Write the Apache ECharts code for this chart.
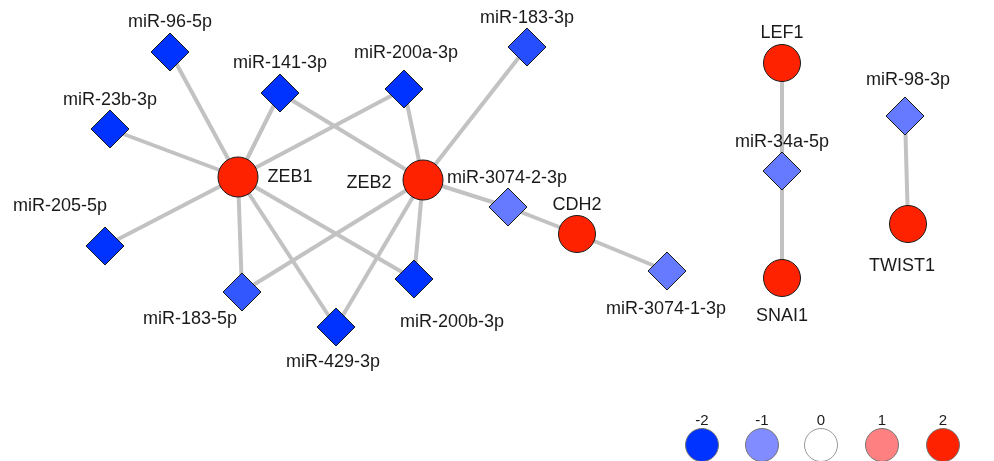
<!DOCTYPE html>
<html>
<head>
<meta charset="utf-8">
<script src="https://cdn.jsdelivr.net/npm/echarts@6/dist/echarts.min.js"></script>
<style>
  html, body { margin: 0; padding: 0; background: #fff; }
  #chart { width: 994px; height: 461px; }
</style>
</head>
<body>
<div id="chart"></div>
<script>
// network nodes (layout coordinates) and fold change
const nodeNames = ['ZEB1', 'ZEB2', 'CDH2', 'LEF1', 'SNAI1', 'TWIST1',
    'miR-96-5p', 'miR-141-3p', 'miR-200a-3p', 'miR-23b-3p', 'miR-205-5p',
    'miR-183-5p', 'miR-429-3p', 'miR-200b-3p', 'miR-183-3p', 'miR-3074-2-3p',
    'miR-3074-1-3p', 'miR-34a-5p', 'miR-98-3p'];
const nodeX = [238, 423, 577, 782, 782, 908,
    170, 280, 404, 110, 105, 242, 336, 414, 527, 508, 667, 782, 905];
const nodeY = [177, 180, 234, 63, 278, 224,
    52, 93, 89, 129, 246, 292, 327, 279, 47, 207, 271, 171, 116];
const nodeValue = [2, 2, 2, 2, 2, 2,
    -2, -2, -2, -2, -2, -1.6, -2, -2, -1.7, -1.2, -1.2, -1.2, -1.2];
const edges = [
    ['ZEB1', 'miR-96-5p'], ['ZEB1', 'miR-141-3p'], ['ZEB1', 'miR-200a-3p'],
    ['ZEB1', 'miR-23b-3p'], ['ZEB1', 'miR-205-5p'], ['ZEB1', 'miR-183-5p'],
    ['ZEB1', 'miR-429-3p'], ['ZEB1', 'miR-200b-3p'],
    ['ZEB2', 'miR-141-3p'], ['ZEB2', 'miR-200a-3p'], ['ZEB2', 'miR-183-3p'],
    ['ZEB2', 'miR-3074-2-3p'], ['ZEB2', 'miR-183-5p'], ['ZEB2', 'miR-429-3p'],
    ['ZEB2', 'miR-200b-3p'],
    ['miR-3074-2-3p', 'CDH2'], ['CDH2', 'miR-3074-1-3p'],
    ['LEF1', 'miR-34a-5p'], ['miR-34a-5p', 'SNAI1'],
    ['miR-98-3p', 'TWIST1']
];
const legendValues = [-2, -1, 0, 1, 2];
const legendX = [702, 762, 821, 882, 943];

// colour scale as in the legend
const stops = [
    [-2, [0, 51, 255]], [-1, [128, 140, 255]], [0, [255, 255, 255]],
    [1, [255, 128, 128]], [2, [255, 34, 0]]
];
function colorOf(v) {
    for (let i = 0; i < stops.length - 1; i++) {
        const a = stops[i], b = stops[i + 1];
        if (v <= b[0]) {
            const t = Math.max(0, (v - a[0]) / (b[0] - a[0]));
            const c = a[1].map((x, k) => Math.round(x + (b[1][k] - x) * t));
            return 'rgb(' + c.join(',') + ')';
        }
    }
    return 'rgb(255,34,0)';
}

// label offsets from node centre
const labelOffset = {
    'ZEB1': [52, 0], 'ZEB2': [-54, 3], 'CDH2': [0, -29], 'LEF1': [0, -30],
    'SNAI1': [0, 38], 'TWIST1': [-6, 42],
    'miR-96-5p': [0, -30], 'miR-141-3p': [0, -30], 'miR-200a-3p': [2, -36],
    'miR-23b-3p': [0, -29], 'miR-205-5p': [-45, -40], 'miR-183-5p': [-52, 27],
    'miR-429-3p': [-3, 35], 'miR-200b-3p': [38, 43], 'miR-183-3p': [0, -29],
    'miR-3074-2-3p': [-1, -29], 'miR-3074-1-3p': [-1, 38], 'miR-34a-5p': [0, -29],
    'miR-98-3p': [3, -36]
};

const nodes = nodeNames.map((name, i) => {
    const isMir = name.indexOf('miR') === 0;
    let size = isMir ? 38 : 37;
    if (name === 'ZEB1' || name === 'ZEB2') size = 40;
    return {
        name: name,
        value: [nodeX[i], nodeY[i]],
        symbol: isMir ? 'diamond' : 'circle',
        symbolSize: size,
        itemStyle: {
            color: colorOf(nodeValue[i]),
            borderColor: '#1a1a1a',
            borderWidth: 1
        },
        label: {
            show: true,
            position: 'inside',
            offset: labelOffset[name],
            formatter: name
        }
    };
});

const links = edges.map(e => ({ source: e[0], target: e[1] }));

const chart = echarts.init(document.getElementById('chart'));
const option = {
    animation: false,
    backgroundColor: '#fff',
    grid: { left: 0, right: 0, top: 0, bottom: 0 },
    xAxis: { type: 'value', min: 0, max: 994, show: false },
    yAxis: { type: 'value', min: 0, max: 461, inverse: true, show: false },
    series: [
        {
            type: 'graph',
            coordinateSystem: 'cartesian2d',
            layout: 'none',
            data: nodes,
            links: links,
            label: {
                color: '#1a1a1a',
                fontFamily: 'Liberation Sans',
                fontSize: 18
            },
            lineStyle: { color: '#c2c2c2', width: 4, opacity: 1 },
            emphasis: { disabled: true }
        },
        {
            type: 'scatter',
            symbol: 'circle',
            symbolSize: 33,
            data: legendValues.map((v, i) => ({
                value: [legendX[i], 445],
                itemStyle: {
                    color: colorOf(v),
                    borderColor: v === 0 ? '#999' : '#777',
                    borderWidth: 1,
                    opacity: 1
                },
                label: { formatter: String(v) }
            })),
            label: {
                show: true,
                position: 'inside',
                offset: [0, -24],
                color: '#1a1a1a',
                fontFamily: 'Liberation Sans',
                fontSize: 15
            },
            emphasis: { disabled: true }
        }
    ]
};
chart.setOption(option);
</script>
</body>
</html>
